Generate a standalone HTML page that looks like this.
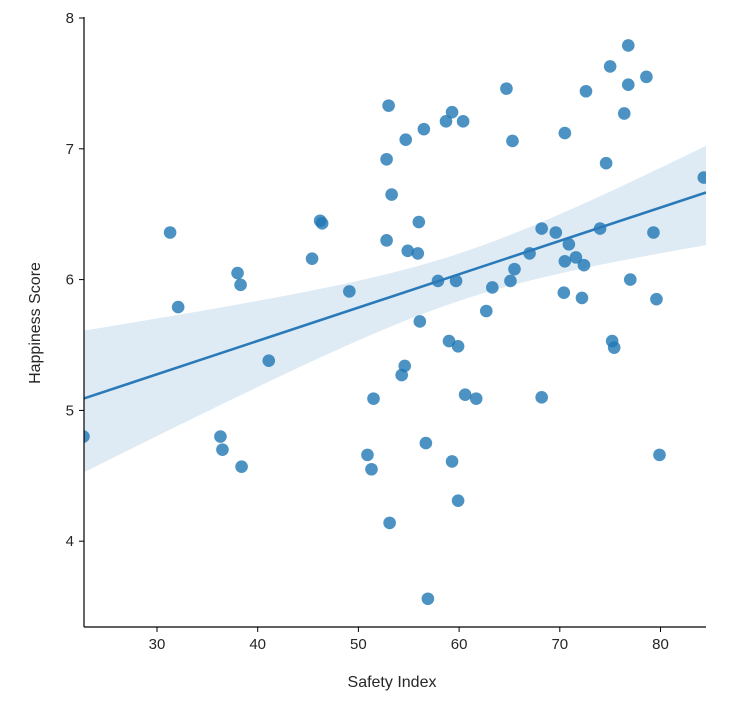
<!DOCTYPE html>
<html><head><meta charset="utf-8"><style>
body{margin:0;background:#fff;}
svg{display:block;font-family:"Liberation Sans","DejaVu Sans",sans-serif;}
</style></head><body>
<svg id="chart" width="732" height="714">
<defs><clipPath id="clip"><rect x="84" y="0" width="622" height="627"/></clipPath></defs>
<g id="band" clip-path="url(#clip)"></g>
<g id="pts" clip-path="url(#clip)"></g>
<g id="axes"></g>
<text x="392" y="687" text-anchor="middle" font-size="16" fill="#262626">Safety Index</text>
<text transform="translate(40,323) rotate(-90)" text-anchor="middle" font-size="16" fill="#262626">Happiness Score</text>
</svg>
<script>
const safetyIndex=[22.7,31.3,32.1,38.0,38.3,36.3,36.5,38.4,41.1,45.4,46.2,46.4,49.1,53.0,52.8,53.3,52.8,54.7,54.9,55.9,56.0,56.1,54.6,54.3,51.5,50.9,51.3,53.1,56.5,58.7,59.3,60.4,57.9,59.7,59.0,59.9,60.6,61.7,56.7,59.3,59.9,56.9,64.7,65.3,63.3,65.5,65.1,62.7,67.0,68.2,69.6,70.5,70.9,70.5,70.4,68.2,72.2,72.4,71.6,74.0,74.6,72.6,75.0,76.8,76.8,76.4,78.6,79.3,79.6,77.0,75.2,75.4,79.9,84.3];
const happinessScore=[4.80,6.36,5.79,6.05,5.96,4.80,4.70,4.57,5.38,6.16,6.45,6.43,5.91,7.33,6.92,6.65,6.30,7.07,6.22,6.20,6.44,5.68,5.34,5.27,5.09,4.66,4.55,4.14,7.15,7.21,7.28,7.21,5.99,5.99,5.53,5.49,5.12,5.09,4.75,4.61,4.31,3.56,7.46,7.06,5.94,6.08,5.99,5.76,6.20,6.39,6.36,7.12,6.27,6.14,5.90,5.10,5.86,6.11,6.17,6.39,6.89,7.44,7.63,7.79,7.49,7.27,7.55,6.36,5.85,6.00,5.53,5.48,4.66,6.78];
const xTicks=[30,40,50,60,70,80];
const yTicks=[4,5,6,7,8];
const X0=84,X1=706,Y0=627,Y1=18;
const xs=v=>157+(v-30)*10.07;
const ys=v=>18+(8-v)*130.8;
const xMin=(X0-157)/10.07+30, xMax=(X1-157)/10.07+30;
const NS="http://www.w3.org/2000/svg";
function mk(t,a,p){const e=document.createElementNS(NS,t);for(const k in a)e.setAttribute(k,a[k]);p.appendChild(e);return e;}
const n=safetyIndex.length;
const mx=safetyIndex.reduce((a,b)=>a+b)/n, my=happinessScore.reduce((a,b)=>a+b)/n;
let sxx=0,sxy=0;for(let i=0;i<n;i++){sxx+=(safetyIndex[i]-mx)**2;sxy+=(safetyIndex[i]-mx)*(happinessScore[i]-my);}
const b=sxy/sxx,a=my-b*mx;
let sse=0;for(let i=0;i<n;i++)sse+=(happinessScore[i]-a-b*safetyIndex[i])**2;
const s=Math.sqrt(sse/(n-2));
const up=[],lo=[];
for(let k=0;k<=60;k++){const x=xMin+(xMax-xMin)*k/60;const yh=a+b*x;const se=1.75*s*Math.sqrt(1/n+(x-mx)**2/sxx);up.push(xs(x)+","+ys(yh+se));lo.unshift(xs(x)+","+ys(yh-se));}
const band=document.getElementById('band');
const poly=mk('polygon',{points:up.concat(lo).join(' '),fill:'#1f77b4','fill-opacity':0.15},band);


const pts=document.getElementById('pts');
for(let i=0;i<n;i++){const c=mk('circle',{cx:xs(safetyIndex[i]),cy:ys(happinessScore[i]),r:6.3,fill:'#1f77b4','fill-opacity':0.8},pts);

}
const ln=mk('line',{x1:X0,y1:ys(a+b*xMin)-3,x2:X1,y2:ys(a+b*xMax)-3,stroke:'#2a7ab9','stroke-width':2.6},pts);


const ax=document.getElementById('axes');
mk('line',{x1:X0,y1:Y1-1,x2:X0,y2:Y0,stroke:'#000','stroke-width':1.2},ax);
mk('line',{x1:X0,y1:Y0,x2:X1,y2:Y0,stroke:'#000','stroke-width':1.2},ax);
xTicks.forEach(t=>{const x=xs(t);mk('line',{x1:x,y1:Y0,x2:x,y2:Y0+5,stroke:'#000'},ax);
const tx=mk('text',{x:x,y:Y0+22,'text-anchor':'middle','font-size':15,fill:'#262626'},ax);tx.textContent=t;

});
yTicks.forEach(t=>{const y=ys(t);mk('line',{x1:X0-5,y1:y,x2:X0,y2:y,stroke:'#000'},ax);
const tx=mk('text',{x:X0-10,y:y+5,'text-anchor':'end','font-size':15,fill:'#262626'},ax);tx.textContent=t;

});
</script>
</body></html>
